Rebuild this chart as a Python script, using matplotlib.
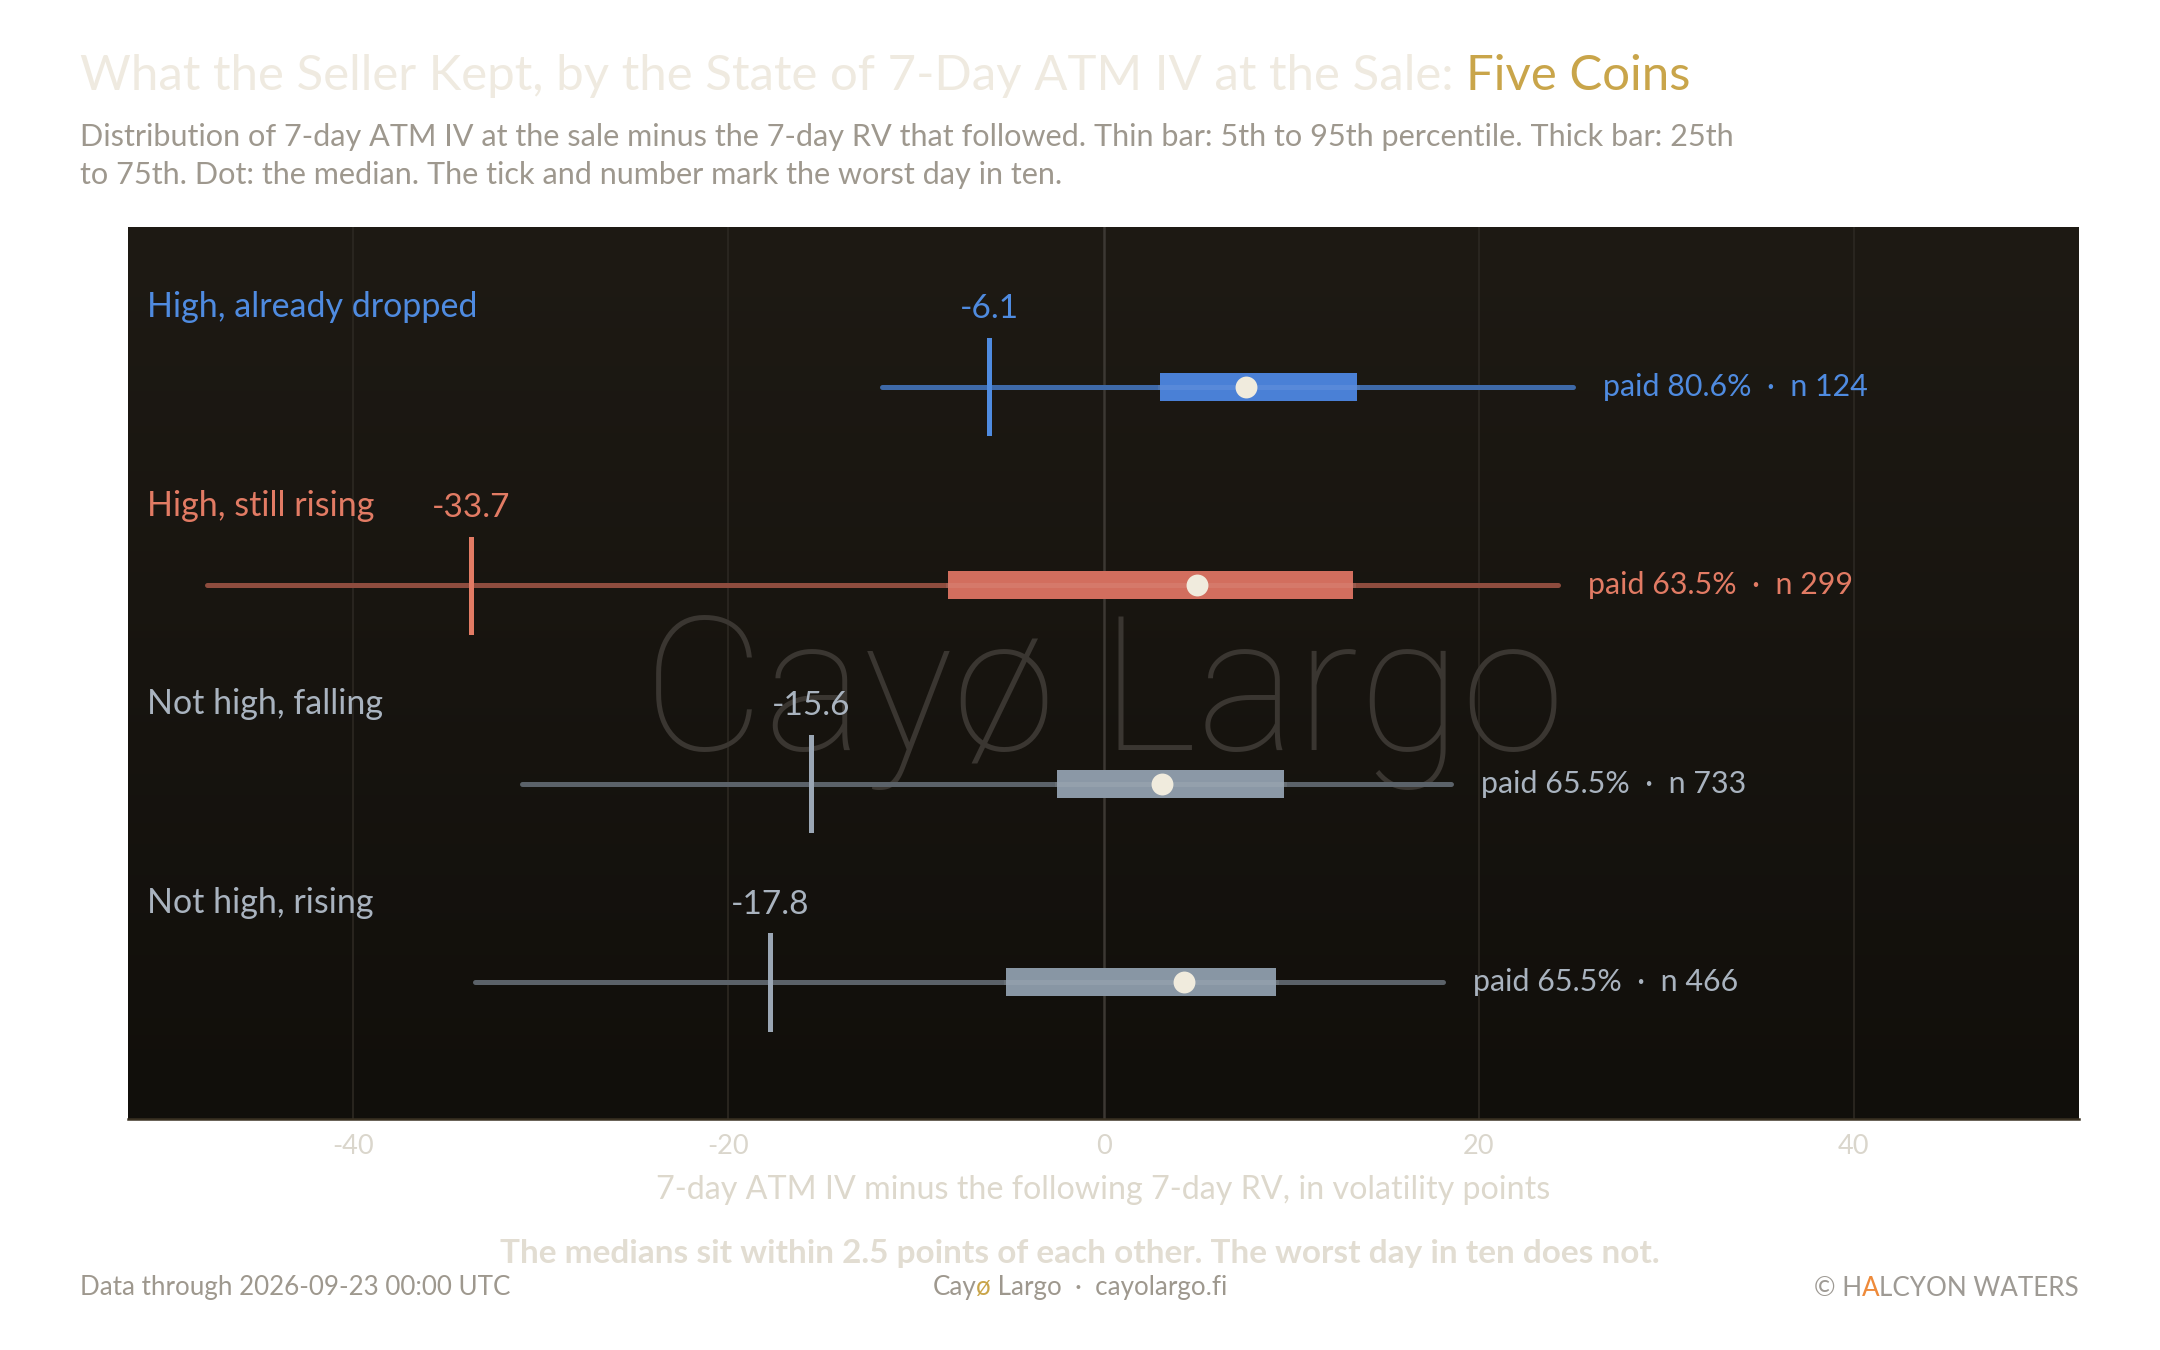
import numpy as np
import matplotlib
matplotlib.use("Agg")
import matplotlib.pyplot as plt
from matplotlib.colors import LinearSegmentedColormap

plt.rcParams['font.family'] = ['Lato', 'DejaVu Sans']

# data
states = ["High, already dropped", "High, still rising", "Not high, falling", "Not high, rising"]
p05 = [-11.8, -47.8, -31.0, -33.5]
p25 = [3.0, -8.3, -2.5, -5.2]
p50 = [7.6, 5.0, 3.1, 4.3]
p75 = [13.5, 13.3, 9.6, 9.2]
p95 = [25.0, 24.2, 18.5, 18.1]
worst10 = [-6.1, -33.7, -15.6, -17.8]
paid = [80.6, 63.5, 65.5, 65.5]
counts = [124, 299, 733, 466]
xticks = [-40, -20, 0, 20, 40]
xticklabels = ["-40", "-20", "0", "20", "40"]

text_cols = ["#4F8BE0", "#E27B64", "#A9B3BF", "#A9B3BF"]
box_cols = ["#4A80D6", "#D26E5E", "#8B98A6", "#8896A4"]
wh_cols = ["#3E69A8", "#8E4C3E", "#5B6269", "#5B6269"]
tick_cols = ["#4F8BE0", "#E27B64", "#9AA6B4", "#9AA6B4"]

fig = plt.figure(figsize=(14.4, 9), dpi=150, facecolor="white")
ax = fig.add_axes([0.0593, 0.1711, 0.9032, 0.6607])

xlim = (-52, 52)
ylim = (3.69, -0.805)

# dark gradient background
grad = np.linspace(0, 1, 256).reshape(-1, 1)
cmap = LinearSegmentedColormap.from_list("bg", ["#1E1A14", "#110F0B"])
ax.imshow(grad, cmap=cmap, aspect="auto", extent=[xlim[0], xlim[1], ylim[0], ylim[1]],
          origin="upper", zorder=0)
ax.set_xlim(*xlim)
ax.set_ylim(*ylim)

for x in xticks:
    ax.axvline(x, color="#3C3833" if x == 0 else "#2A2620", lw=1.2 if x == 0 else 0.9, zorder=1)

# watermark
ax.text(0, 1.58, "Cayø Largo", fontsize=90, family=["Roboto", "Lato", "DejaVu Sans"],
        fontweight="light", color="#3A3631", ha="center", va="center", zorder=2)

for i, s in enumerate(states):
    ax.plot([p05[i], p95[i]], [i, i], color=wh_cols[i], lw=2.4, solid_capstyle="round", zorder=3)
    ax.barh(i, p75[i] - p25[i], left=p25[i], height=0.14, color=box_cols[i], zorder=4)
    ax.plot([p25[i], p75[i]], [i, i], color="white", alpha=0.08, lw=2.4, zorder=5)
    ax.plot([worst10[i], worst10[i]], [i - 0.235, i + 0.235], color=tick_cols[i], lw=2.4, zorder=6)
    ax.plot(p50[i], i, "o", ms=10.5, color="#F0EBDD", mec="none", zorder=7)
    ax.text(-51.0, i - 0.4, s, color=text_cols[i], fontsize=16.3, ha="left", va="center", zorder=8)
    ax.text(worst10[i], i - 0.39, f"{worst10[i]:.1f}", color=text_cols[i], fontsize=16,
            ha="center", va="center", zorder=8)
    ax.text(p95[i] + 1.6, i, f"paid {paid[i]:.1f}%  ·  n {counts[i]}", color=text_cols[i],
            fontsize=14.6, ha="left", va="center", zorder=8)

ax.set_yticks([])
ax.set_xticks(xticks)
ax.set_xticklabels(xticklabels)
ax.tick_params(axis="x", length=0, pad=7, labelsize=13, labelcolor="#DAD6CC")
for sp in ["top", "left", "right"]:
    ax.spines[sp].set_visible(False)
ax.spines["bottom"].set_color("#3A3122")
ax.spines["bottom"].set_linewidth(1.2)
ax.set_xlabel("7-day ATM IV minus the following 7-day RV, in volatility points",
              fontsize=15.5, color="#DDD8CC", labelpad=8)

# title with coloured tail
fig.canvas.draw()
r = fig.canvas.get_renderer()
t1 = fig.text(80 / 2160, 1 - 76 / 1350,
              "What the Seller Kept, by the State of 7-Day ATM IV at the Sale: ",
              fontsize=23.6, color="#EFEAE0", ha="left", va="center")
bb = t1.get_window_extent(r)
fig.text(bb.x1 / 2160, 1 - 76 / 1350, "Five Coins", fontsize=23.6, color="#C9A54A",
         ha="left", va="center")

fig.text(80 / 2160, 1 - 137 / 1350,
         "Distribution of 7-day ATM IV at the sale minus the 7-day RV that followed. Thin bar: 5th to 95th percentile. Thick bar: 25th",
         fontsize=14.7, color="#9E988E", ha="left", va="center")
fig.text(80 / 2160, 1 - 175 / 1350,
         "to 75th. Dot: the median. The tick and number mark the worst day in ten.",
         fontsize=14.7, color="#9E988E", ha="left", va="center")

fig.text(0.5, 1 - 1254 / 1350,
         "The medians sit within 2.5 points of each other. The worst day in ten does not.",
         fontsize=16, fontweight="bold", color="#E2DDD2", ha="center", va="center")

# footer
fig.text(80 / 2160, 1 - 1288 / 1350, "Data through 2026-09-23 00:00 UTC",
         fontsize=12.5, color="#9E988E", ha="left", va="center")

parts = [("Cay", "#9E988E"), ("ø", "#C9A54A"), (" Largo  ·  cayolargo.fi", "#9E988E")]
objs = []
for txt, c in parts:
    objs.append(fig.text(0, 1 - 1288 / 1350, txt, fontsize=12.5, color=c, ha="left", va="center"))
widths = [o.get_window_extent(r).width for o in objs]
x0 = 1080 - sum(widths) / 2
for o, w in zip(objs, widths):
    o.set_x(x0 / 2160)
    x0 += w

logo = [("© H", "#9E9A94"), ("A", "#EE8A3A"), ("LCYON WATERS", "#9E9A94")]
objs = []
for txt, c in logo:
    objs.append(fig.text(0, 1 - 1288 / 1350, txt, fontsize=12.5,
                         color=c, ha="left", va="center"))
widths = [o.get_window_extent(r).width for o in objs]
x0 = 2079 - sum(widths)
for o, w in zip(objs, widths):
    o.set_x(x0 / 2160)
    x0 += w

fig.savefig("out.png", dpi=150, facecolor="white")
